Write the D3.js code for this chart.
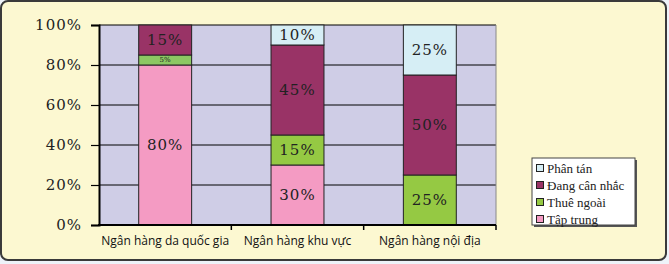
<!DOCTYPE html>
<html><head><meta charset="utf-8">
<script src="https://cdn.jsdelivr.net/npm/d3@7/dist/d3.min.js"></script>
<style>body{margin:0;background:#eef3f9;}svg{display:block;}
.serif{font-family:"DejaVu Serif","Liberation Serif","Times New Roman",serif;}
.serif2{font-family:"Liberation Serif","Times New Roman","DejaVu Serif",serif;}
</style>
</head><body>
<svg id="c" width="669" height="264"></svg>
<script>
const categories = ["Ngân hàng da quốc gia", "Ngân hàng khu vực", "Ngân hàng nội địa"];
const seriesNames = ["Tập trung", "Thuê ngoài", "Đang cân nhắc", "Phân tán"];
const tapTrung   = [0.80, 0.30, 0.00];
const thueNgoai  = [0.05, 0.15, 0.25];
const dangCanNhac= [0.15, 0.45, 0.50];
const phanTan    = [0.00, 0.10, 0.25];
const yTicks = [0, 0.2, 0.4, 0.6, 0.8, 1.0];
const colors = ["#f49bc3", "#95c943", "#993366", "#d6eef5"];

const svg = d3.select("#c");
svg.append("rect").attr("x",1).attr("y",1).attr("width",665).attr("height",259).attr("rx",7)
  .attr("fill","#fcf8d1").attr("stroke","#3a3a3a").attr("stroke-width",2);

const L=99, R=496, T=25, B=225;
const x = d3.scaleBand().domain(categories).range([L,R]).paddingInner(0.6).paddingOuter(0.3);
const y = d3.scaleLinear().domain([0,1]).range([B,T]);

svg.append("rect").attr("x",L).attr("y",T).attr("width",R-L).attr("height",B-T).attr("fill","#cfcde6");
svg.append("g").selectAll("line").data(yTicks.slice(1)).join("line")
  .attr("x1",L).attr("x2",R).attr("y1",d=>y(d)).attr("y2",d=>y(d)).attr("stroke","#000").attr("stroke-width",1);
svg.append("line").attr("x1",R).attr("x2",R).attr("y1",T).attr("y2",B).attr("stroke","#888").attr("stroke-width",1);

const data = [tapTrung, thueNgoai, dangCanNhac, phanTan];
const table = categories.map((c,i)=>{const o={cat:c}; seriesNames.forEach((s,j)=>o[s]=data[j][i]); return o;});
const stack = d3.stack().keys(seriesNames)(table);

const gb = svg.append("g");
stack.forEach((layer,j)=>{
  layer.forEach(d=>{
    const v = d[1]-d[0];
    if(v<=0) return;
    gb.append("rect").attr("x",x(d.data.cat)).attr("width",x.bandwidth())
      .attr("y",y(d[1])).attr("height",y(d[0])-y(d[1]))
      .attr("fill", (j===1 && d.data.cat===categories[0]) ? "#8cc863" : colors[j])
      .attr("stroke","#222").attr("stroke-width",1);
    const small = v < 0.08;
    gb.append("text").attr("class","serif").attr("x",x(d.data.cat)+x.bandwidth()/2).attr("y",(y(d[0])+y(d[1]))/2)
      .attr("text-anchor","middle").attr("dominant-baseline","central")
      .style("font-size", (small?7:15)+"px").style("letter-spacing", small?"0px":"1px")
      .attr("fill","#222").text(Math.round(v*100)+"%");
  });
});

// axes
const ya = d3.axisLeft(y).tickValues(yTicks).tickFormat(d=>Math.round(d*100)+"%").tickSize(8).tickPadding(9);
const gy = svg.append("g").attr("transform",`translate(${L},0)`).call(ya);
gy.attr("font-family",null).attr("font-size",null);
gy.select(".domain").attr("stroke","#000").attr("stroke-width",2);
gy.selectAll(".tick line").attr("stroke","#000").attr("stroke-width",1.2);
gy.selectAll("text").attr("class","serif").style("font-size","15px").style("letter-spacing","1px").attr("fill","#222");

svg.append("line").attr("x1",L-1).attr("x2",R).attr("y1",B).attr("y2",B).attr("stroke","#000").attr("stroke-width",2);
const tickX = [0,1,2,3].map(i=>L+ (R-L)/3*i);
svg.append("g").selectAll("line").data(tickX.slice(1)).join("line")
  .attr("x1",d=>d).attr("x2",d=>d).attr("y1",B).attr("y2",B+5).attr("stroke","#000").attr("stroke-width",1.5);

svg.append("g").selectAll("text").data(categories).join("text")
  .attr("x",d=>x(d)+x.bandwidth()/2).attr("y",245)
  .attr("text-anchor","middle").attr("font-family","Open Sans").attr("font-size",12).attr("fill","#111")
  .text(d=>d);

// legend
const lg = svg.append("g");
lg.append("rect").attr("x",534).attr("y",160).attr("width",103).attr("height",67).attr("fill","#555");
lg.append("rect").attr("x",532).attr("y",158).attr("width",103).attr("height",67).attr("fill","#fff").attr("stroke","#444").attr("stroke-width",1);
const legendOrder = [3,2,1,0];
legendOrder.forEach((j,k)=>{
  const yy = 168 + k*17;
  lg.append("rect").attr("x",536.5).attr("y",yy-3.5).attr("width",7).attr("height",7).attr("fill",colors[j]).attr("stroke","#222").attr("stroke-width",1);
  lg.append("text").attr("class","serif2").attr("x",547).attr("y",yy).attr("dominant-baseline","central")
    .style("font-size","13px").attr("fill","#222").text(seriesNames[j]);
});
</script>
</body></html>
